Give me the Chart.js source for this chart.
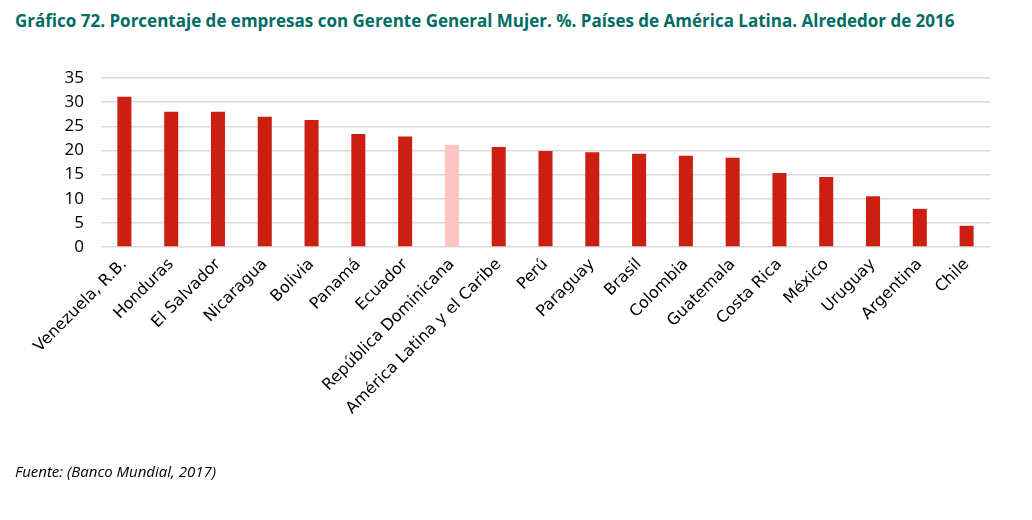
<!DOCTYPE html>
<html>
<head>
<meta charset="utf-8">
<script src="https://cdn.jsdelivr.net/npm/chart.js@4/dist/chart.umd.min.js"></script>
<style>
  html, body { margin: 0; padding: 0; background: #fff; }
  #wrap { position: relative; width: 1032px; height: 520px; overflow: hidden; }
  #titulo { position: absolute; left: 15px; top: 9px; font-family: "Open Sans", sans-serif; font-weight: bold; font-size: 17px; color: #006C63; white-space: nowrap; }
  #fuente { position: absolute; left: 15px; top: 461px; font-family: "Open Sans", sans-serif; font-style: italic; font-size: 15px; color: #000; }
  canvas { position: absolute; left: 0; top: 0; }
</style>
</head>
<body>
<div id="wrap">
  <div id="titulo">Gráfico 72. Porcentaje de empresas con Gerente General Mujer. %. Países de América Latina. Alrededor de 2016</div>
  <canvas id="grafico" width="1032" height="520"></canvas>
  <div id="fuente">Fuente: (Banco Mundial, 2017)</div>
</div>
<script>
// categorías y valores
const paises = [
    'Venezuela, R.B.', 'Honduras', 'El Salvador', 'Nicaragua', 'Bolivia', 'Panamá',
    'Ecuador', 'República Dominicana', 'América Latina y el Caribe', 'Perú', 'Paraguay',
    'Brasil', 'Colombia', 'Guatemala', 'Costa Rica', 'México', 'Uruguay', 'Argentina', 'Chile'
];
const porcentajes = [31.1, 28.0, 28.0, 27.0, 26.3, 23.4, 22.9, 21.1, 20.7, 19.9, 19.6, 19.3, 18.9, 18.5, 15.3, 14.5, 10.5, 7.9, 4.4];
const paisDestacado = 'República Dominicana';
const ticksY = [0, 5, 10, 15, 20, 25, 30, 35];

const ROJO = '#CC1F12';
const ROSA = '#FFC4C4';

const colores = paises.map(p => p === paisDestacado ? ROSA : ROJO);

const ctx = document.getElementById('grafico').getContext('2d');
new Chart(ctx, {
    type: 'bar',
    data: {
        labels: paises,
        datasets: [{
            data: porcentajes,
            backgroundColor: colores,
            borderWidth: 0,
            barPercentage: 0.6,
            categoryPercentage: 0.5
        }]
    },
    options: {
        responsive: false,
        animation: false,
        layout: { padding: { top: 78, right: 42, left: 0, bottom: 0 } },
        plugins: { legend: { display: false }, tooltip: { enabled: false } },
        scales: {
            x: {
                grid: { display: false, drawTicks: false },
                border: { display: false },
                ticks: {
                    color: '#000',
                    font: { family: 'DejaVu Sans', size: 16 },
                    minRotation: 45, maxRotation: 45,
                    autoSkip: false, padding: 8
                },
                afterFit: (scale) => { scale.height = 273; }
            },
            y: {
                min: 0, max: 35,
                afterBuildTicks: (scale) => { scale.ticks = ticksY.map(v => ({ value: v })); },
                grid: { color: '#D9D9D9', lineWidth: 1.5, drawTicks: false },
                border: { display: false },
                ticks: {
                    color: '#000',
                    font: { family: 'Open Sans', size: 17 },
                    padding: 17
                },
                afterFit: (scale) => { scale.width = 101; }
            }
        }
    }
});
</script>
</body>
</html>
